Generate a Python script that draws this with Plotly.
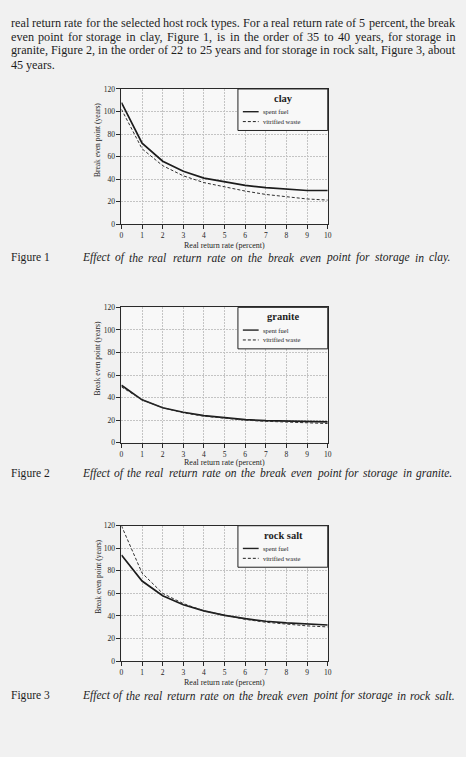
import plotly.graph_objects as go

W, H = 466, 757

# ---------------- data ----------------
rate = list(range(11))
clay_spent = [108, 72, 56, 47, 41, 37.5, 34.5, 32.5, 31, 30, 30]
clay_vitr = [102, 67, 52, 43, 37, 33, 29.5, 26.5, 24.5, 22.5, 21.5]
granite_spent = [51, 38, 31, 27, 24, 22, 20.5, 19.5, 19, 18.5, 18.5]
granite_vitr = [49.5, 38, 31, 26.5, 23.5, 21.5, 20, 19, 18.2, 17.5, 17]
salt_spent = [94, 71, 58, 50, 44.5, 40.5, 37.6, 35.3, 33.8, 32.7, 32]
salt_vitr = [120, 78, 60, 51, 44.5, 40.5, 37, 34.4, 32.7, 31.2, 30.3]
x_ticks = list(range(11))
y_ticks = [0, 20, 40, 60, 80, 100, 120]
rock_names = ["clay", "granite", "rock salt"]
series_names = ["spent fuel", "vitrified waste"]
x_title = "Real return rate (percent)"
y_title = "Break even point (years)"
captions = [
    "Effect of the real return rate on the break even point for storage in clay.",
    "Effect of the real return rate on the break even point for storage in granite.",
    "Effect of the real return rate on the break even point for storage in rock salt.",
]
fig_labels = ["Figure 1", "Figure 2", "Figure 3"]
paragraph = [
    "real return rate for the selected host rock types. For a real return rate of 5 percent, the break",
    "even point for storage in clay, Figure 1, is in the order of 35 to 40 years, for storage in",
    "granite, Figure 2, in the order of 22 to 25 years and for storage in rock salt,  Figure 3, about",
    "45 years.",
]

# ---------------- helpers ----------------
def fx(x):
    return x / W

def fy(y):
    return 1 - y / H

ROMAN = {' ': 250, ',': 250, '.': 250, '(': 333, ')': 333, '-': 333}
for c in '0123456789':
    ROMAN[c] = 500
ROMAN.update(dict(zip('ABCDEFGHIJKLMNOPQRSTUVWXYZ',
                      [722, 667, 667, 722, 611, 556, 722, 722, 333, 389, 722, 611, 889,
                       722, 722, 556, 722, 667, 556, 611, 722, 722, 944, 722, 722, 611])))
ROMAN.update(dict(zip('abcdefghijklmnopqrstuvwxyz',
                      [444, 500, 444, 500, 444, 333, 500, 500, 278, 278, 500, 278, 778,
                       500, 500, 500, 500, 333, 389, 278, 500, 500, 722, 500, 500, 444])))
ITAL = dict(ROMAN)
ITAL.update(dict(zip('abcdefghijklmnopqrstuvwxyz',
                     [500, 500, 444, 500, 444, 278, 500, 500, 278, 278, 444, 278, 722,
                      500, 500, 500, 500, 389, 389, 278, 500, 444, 667, 444, 444, 389])))
ITAL['E'] = 611

def em(s, table=ROMAN):
    return sum(table.get(c, 500) for c in s) / 1000.0

SERIF = "Liberation Serif"
ink = "#1e1e1e"

annotations = []
shapes = []

def justified(words, left, right, y, size, table, italic=False, justify=True, slack=1.0):
    widths = [em(w, table) * size * slack for w in words]
    if justify and len(words) > 1:
        gap = (right - left - sum(widths)) / (len(words) - 1)
    else:
        gap = em(' ', table) * size
    x = left
    for w, wd in zip(words, widths):
        annotations.append(dict(x=fx(x), y=fy(y), xref="paper", yref="paper",
                                text=("<i>%s</i>" % w) if italic else w,
                                showarrow=False, xanchor="left", yanchor="middle",
                                borderpad=0, font=dict(family=SERIF, size=size, color=ink)))
        x += wd + gap

# ---------------- paragraph (justified) ----------------
line_y = [19, 33, 47, 62]
body_size = (458 - 8) / (em(paragraph[0]) * 1.01)
for i, line in enumerate(paragraph):
    justified(line.split(), 8, 458, line_y[i], body_size, ROMAN,
              justify=(i < len(paragraph) - 1))

fig = go.Figure()

# ---------------- charts ----------------
chart_tops = [86, 307, 528]
chart_h = 137
plot_left, plot_right = 121, 330
data = [(clay_spent, clay_vitr), (granite_spent, granite_vitr), (salt_spent, salt_vitr)]
caption_y = [257, 475, 700]
title_off = [21, 20, 22]
caption_right = [455, 456, 458]
cap_size = (458 - 80) / (em(captions[2], ITAL) * 1.07)

layout_axes = {}
for k in range(3):
    top = chart_tops[k]
    bot = top + chart_h
    sfx = "" if k == 0 else str(k + 1)
    xa, ya = "x" + sfx, "y" + sfx
    spent, vitr = data[k]
    fig.add_trace(go.Scatter(x=rate, y=spent, mode="lines", name=series_names[0],
                             xaxis=xa, yaxis=ya, showlegend=False,
                             line=dict(color="#1c1c1c", width=1.7)))
    fig.add_trace(go.Scatter(x=rate, y=vitr, mode="lines", name=series_names[1],
                             xaxis=xa, yaxis=ya, showlegend=False,
                             line=dict(color="#303030", width=1, dash="3px,2px")))
    common = dict(showgrid=True, gridcolor="#c4c4c4", griddash="2px,1px", gridwidth=1,
                  showline=True, linecolor="#2a2a2a", linewidth=1, mirror=True,
                  ticks="outside", ticklen=4, tickcolor="#2a2a2a", zeroline=False,
                  tickfont=dict(family=SERIF, size=7.5, color=ink))
    layout_axes["xaxis" + sfx] = dict(common, domain=[fx(plot_left), fx(plot_right)],
                                      range=[0, 10], tickvals=x_ticks, anchor=ya)
    layout_axes["yaxis" + sfx] = dict(common, domain=[fy(bot), fy(top)],
                                      range=[0, 120], tickvals=y_ticks, anchor=xa)

    # axis titles
    annotations.append(dict(x=fx(225), y=fy(bot + title_off[k]), xref="paper", yref="paper",
                            text=x_title, showarrow=False, xanchor="center", yanchor="middle",
                            font=dict(family=SERIF, size=8, color=ink)))
    annotations.append(dict(x=fx(97), y=fy(top + 52), xref="paper", yref="paper",
                            text=y_title, showarrow=False, textangle=-90,
                            xanchor="center", yanchor="middle",
                            font=dict(family=SERIF, size=7.5, color=ink)))

    # legend box
    shapes.append(dict(type="rect", xref="paper", yref="paper",
                       x0=fx(239), x1=fx(plot_right), y0=fy(top + 42), y1=fy(top),
                       line=dict(color="#222", width=1), fillcolor="#f8f8f8", layer="above"))
    annotations.append(dict(x=fx(285), y=fy(top + 9.5), xref="paper", yref="paper",
                            text="<b>" + rock_names[k] + "</b>", showarrow=False,
                            xanchor="center", yanchor="middle",
                            font=dict(family=SERIF, size=10.5, color=ink)))
    for j, (name, dash, wdt) in enumerate([(series_names[0], "solid", 1.4),
                                           (series_names[1], "3px,2px", 1)]):
        yy = top + 23 + 10 * j
        shapes.append(dict(type="line", xref="paper", yref="paper",
                           x0=fx(244), x1=fx(260), y0=fy(yy), y1=fy(yy),
                           line=dict(color="#222", width=wdt, dash=dash), layer="above"))
        annotations.append(dict(x=fx(263), y=fy(yy), xref="paper", yref="paper",
                                text=name, showarrow=False, xanchor="left", yanchor="middle",
                                borderpad=0, font=dict(family=SERIF, size=6.5, color=ink)))

    # captions
    annotations.append(dict(x=fx(8), y=fy(caption_y[k]), xref="paper", yref="paper",
                            text=fig_labels[k], showarrow=False, xanchor="left", yanchor="middle",
                            borderpad=0, font=dict(family=SERIF, size=cap_size, color=ink)))
    justified(captions[k].split(), 80, caption_right[k], caption_y[k], cap_size, ITAL,
              italic=True, slack=1.04)

fig.update_layout(
    width=W, height=H, autosize=False,
    margin=dict(l=0, r=0, t=0, b=0),
    paper_bgcolor="#f1f1f1", plot_bgcolor="#f8f8f8",
    showlegend=False,
    annotations=annotations, shapes=shapes,
    **layout_axes,
)

fig.write_html("out.html")
